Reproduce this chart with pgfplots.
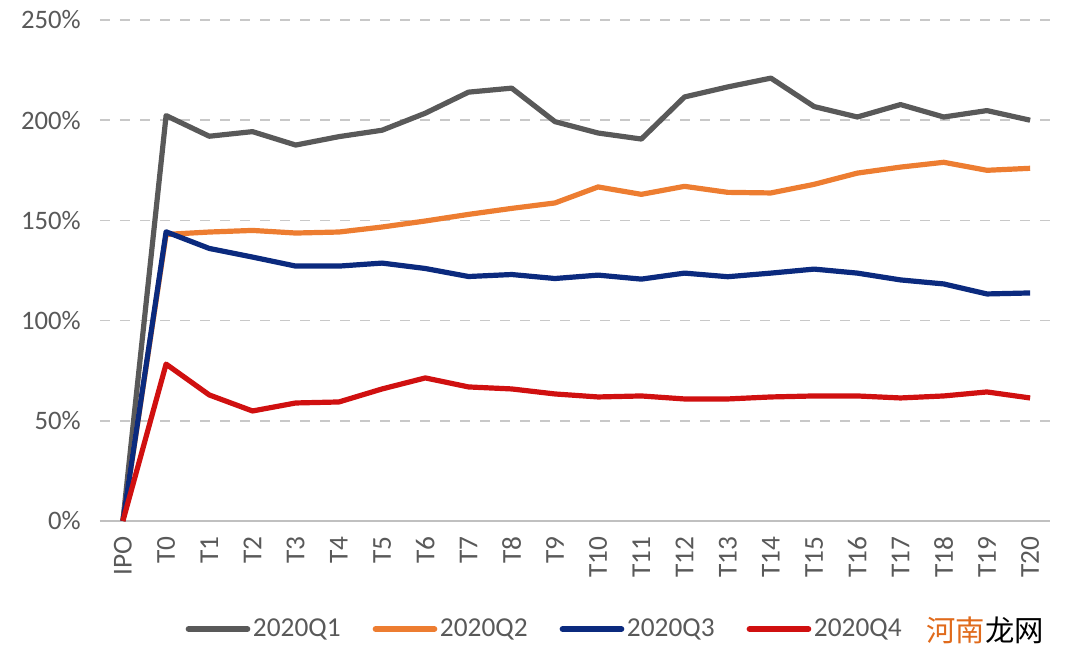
\documentclass[border=0pt]{standalone}
\usepackage{pgfplots}
\pgfplotsset{compat=1.18}
\usepackage{fontspec}
\setmainfont{Carlito}
\newfontfamily\cjk{Noto Sans CJK SC}
\definecolor{q1}{HTML}{595959}
\definecolor{q2}{HTML}{ED7D31}
\definecolor{q3}{HTML}{0B2A7E}
\definecolor{q4}{HTML}{D01010}
\definecolor{txt}{HTML}{595959}
\definecolor{grd}{HTML}{C8C8C8}
\definecolor{axl}{HTML}{C0C0C0}
\definecolor{wm}{HTML}{E06A1B}
\begin{document}
\begin{tikzpicture}
\useasboundingbox (-75pt,-108pt) rectangle (729.75pt,390.75pt);
\begin{axis}[
  at={(0,0)}, anchor=south west, scale only axis,
  width=712.5pt, height=375.75pt,
  xmin=-0.53, xmax=21.46, ymin=0, ymax=250,
  clip=false,
  axis x line*=bottom, axis y line*=left,
  x axis line style={draw=axl, line width=1.2pt, -},
  y axis line style={draw=none},
  major tick length=0pt,
  ytick={0,50,100,150,200,250},
  yticklabel={\pgfmathprintnumber{\tick}\%},
  /pgf/number format/assume math mode=true,
  yticklabel style={font=\fontsize{20}{24}\selectfont, text=txt, xshift=-11pt},
  xtick={0,...,21},
  xticklabels={IPO,T0,T1,T2,T3,T4,T5,T6,T7,T8,T9,T10,T11,T12,T13,T14,T15,T16,T17,T18,T19,T20},
  xticklabel style={rotate=90, anchor=east, font=\fontsize{20.5}{24}\selectfont, text=txt, yshift=0pt, xshift=-8pt},
  ymajorgrids,
  grid style={draw=grd, line width=1.1pt, dash pattern=on 7.5pt off 7.5pt},
  every axis plot/.append style={line width=3.9pt, line join=round, mark=none},
  legend columns=4,
  legend style={at={(0.4684,-0.2156)}, anchor=center, draw=none, fill=none,
    font=\fontsize{20.5}{24}\selectfont, text=txt,
    /tikz/every even column/.append style={column sep=22pt}},
  legend image code/.code={\draw[#1, line width=4.5pt, line cap=round] (0pt,0pt) -- (44pt,0pt);},
]
\addplot[q1] coordinates {(0,0) (1,202.3) (2,192) (3,194.3) (4,187.6) (5,191.8) (6,195) (7,203.5) (8,214) (9,216) (10,199.3) (11,193.6) (12,190.6) (13,211.6) (14,216.6) (15,221) (16,206.8) (17,201.6) (18,207.8) (19,201.6) (20,204.8) (21,200)};
\addlegendentry{2020Q1}
\addplot[q2] coordinates {(0,0) (1,143) (2,144.2) (3,145) (4,143.7) (5,144.2) (6,146.7) (7,149.7) (8,153) (9,156) (10,158.7) (11,166.7) (12,163) (13,167) (14,164) (15,163.7) (16,168) (17,173.6) (18,176.6) (19,179) (20,175) (21,176)};
\addlegendentry{2020Q2}
\addplot[q3] coordinates {(0,0) (1,144.3) (2,136) (3,131.7) (4,127.2) (5,127.2) (6,128.7) (7,126) (8,122) (9,123) (10,121) (11,122.7) (12,120.7) (13,123.7) (14,121.9) (15,123.7) (16,125.7) (17,123.7) (18,120.3) (19,118.3) (20,113.3) (21,113.8)};
\addlegendentry{2020Q3}
\addplot[q4] coordinates {(0,0) (1,78.3) (2,62.9) (3,54.9) (4,58.9) (5,59.4) (6,65.9) (7,71.4) (8,66.9) (9,65.9) (10,63.4) (11,61.9) (12,62.4) (13,60.9) (14,60.9) (15,61.9) (16,62.4) (17,62.4) (18,61.4) (19,62.4) (20,64.4) (21,61.4)};
\addlegendentry{2020Q4}
\end{axis}
\node[anchor=center, font=\cjk\fontsize{22}{26}\selectfont] at (663.75pt,-81.75pt) {\textcolor{wm}{河南}\textcolor{black}{龙网}};
\end{tikzpicture}
\end{document}
